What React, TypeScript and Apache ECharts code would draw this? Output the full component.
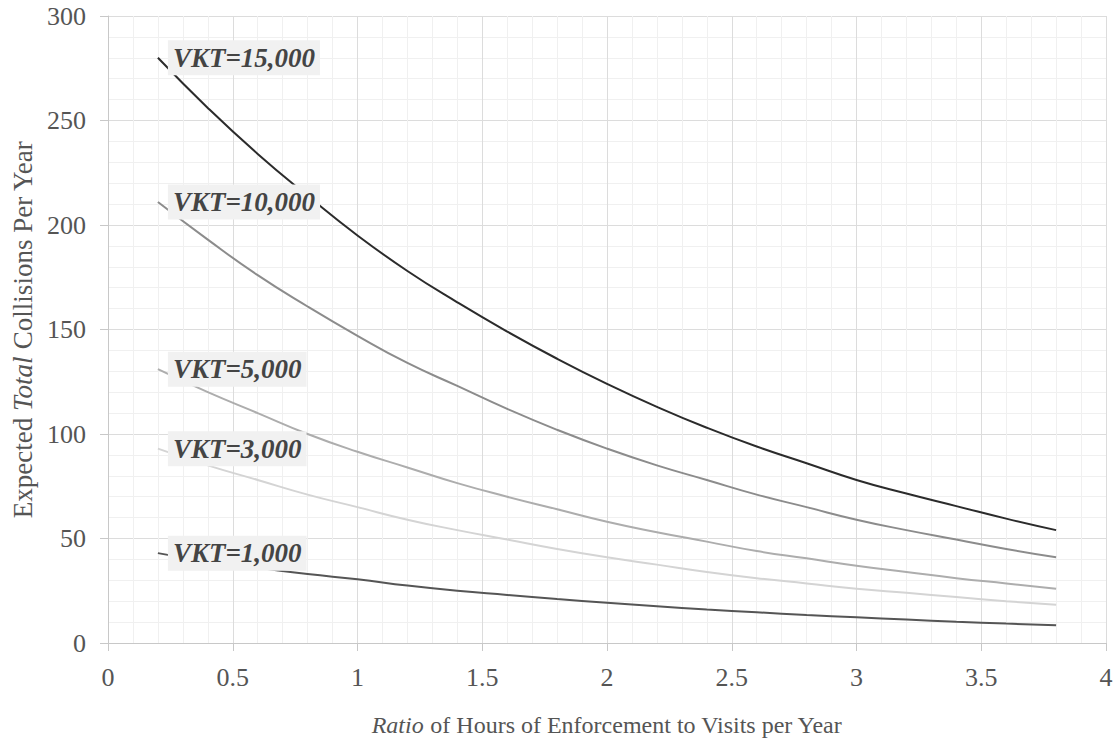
import React, { useEffect, useRef } from "react";
import * as echarts from "echarts";

const xValues = [0.2, 0.4, 0.6, 0.8, 1.0, 1.2, 1.4, 1.6, 1.8, 2.0, 2.2, 2.4, 2.6, 2.8, 3.0, 3.2, 3.4, 3.6, 3.8];

const vkt15000 = [280, 256, 234, 214, 195, 178, 163, 149, 136, 124, 113, 103, 94, 86, 78, 71.5, 65.5, 59.5, 54];
const vkt10000 = [211, 193, 176, 161, 147, 134, 123, 112, 102, 93, 85, 78, 71, 65, 59, 54, 49.5, 45, 41];
const vkt5000 = [131, 120, 110, 100, 91.5, 84, 76.5, 70, 64, 58, 53, 48.5, 44, 40.5, 37, 34, 31, 28.5, 26];
const vkt3000 = [93, 85, 78, 71, 65, 59, 54, 49.5, 45, 41, 37.5, 34, 31, 28.5, 26, 24, 22, 20, 18.3];
const vkt1000 = [43, 39, 36, 33, 30.5, 27.5, 25, 23, 21, 19.3, 17.6, 16, 14.7, 13.4, 12.3, 11.2, 10.2, 9.3, 8.5];

const seriesNames = ["VKT=15,000", "VKT=10,000", "VKT=5,000", "VKT=3,000", "VKT=1,000"];
const seriesValues = [vkt15000, vkt10000, vkt5000, vkt3000, vkt1000];
const seriesColors = ["#2b2b2b", "#8c8c8c", "#adadad", "#d4d4d4", "#555555"];

const xTitle = "{i|Ratio}{n| of Hours of Enforcement to Visits per Year}";
const yTitle = "{n|Expected }{i|Total}{n| Collisions Per Year}";

const FONT = "Liberation Serif";

export default function App() {
  const ref = useRef<HTMLDivElement>(null);
  useEffect(() => {
    if (!ref.current) return;
    const chart = echarts.init(ref.current, undefined, { renderer: "svg" });
    const xRich = {
      n: { fontFamily: FONT, fontSize: 24, color: "#555" },
      i: { fontFamily: FONT, fontSize: 24, color: "#555", fontStyle: "italic" },
    };
    const yRich = {
      n: { fontFamily: FONT, fontSize: 27, color: "#555" },
      i: { fontFamily: FONT, fontSize: 27, color: "#555", fontStyle: "italic" },
    };
    const series = seriesNames.map((name, si) => ({
      name,
      type: "line",
      smooth: 0.5,
      symbol: "circle",
      symbolSize: 0,
      showSymbol: true,
      lineStyle: { color: seriesColors[si], width: 2 },
      itemStyle: { color: seriesColors[si] },
      z: 2 + si,
      data: xValues.map((x, i) =>
        i === 0
          ? {
              value: [x, seriesValues[si][i]],
              label: {
                show: true,
                position: "right",
                distance: 10,
                formatter: name,
                fontFamily: FONT,
                fontSize: 27,
                fontWeight: "bold",
                fontStyle: "italic",
                color: "#444",
                backgroundColor: "#f1f1f1",
                padding: [4, 5, 4, 5],
              },
            }
          : { value: [x, seriesValues[si][i]] }
      ),
    }));
    chart.setOption({
      animation: false,
      backgroundColor: "#ffffff",
      textStyle: { fontFamily: FONT },
      grid: { left: 108, right: 8, top: 16, bottom: 98, outerBoundsMode: "none", containLabel: false },
      xAxis: {
        type: "value",
        min: 0,
        max: 4,
        interval: 0.5,
        name: xTitle,
        nameLocation: "middle",
        nameGap: 70,
        nameTextStyle: { fontFamily: FONT, rich: xRich },
        axisLine: { show: true, lineStyle: { color: "#c8c8c8", width: 1 } },
        axisTick: { show: true, length: 8, lineStyle: { color: "#c8c8c8" } },
        axisLabel: { fontFamily: FONT, fontSize: 26, color: "#555", margin: 21 },
        splitLine: { show: true, lineStyle: { color: "#dcdcdc", width: 1 } },
        minorTick: { show: true, splitNumber: 5, length: 0, lineStyle: { opacity: 0 } },
        minorSplitLine: { show: true, lineStyle: { color: "#f0f0f0", width: 1 } },
      },
      yAxis: {
        type: "value",
        min: 0,
        max: 300,
        interval: 50,
        name: yTitle,
        nameLocation: "middle",
        nameGap: 70,
        nameTextStyle: { fontFamily: FONT, rich: yRich },
        axisLine: { show: true, lineStyle: { color: "#c8c8c8", width: 1 } },
        axisTick: { show: true, length: 8, lineStyle: { color: "#c8c8c8" } },
        axisLabel: { fontFamily: FONT, fontSize: 26, color: "#555", margin: 22 },
        splitLine: { show: true, lineStyle: { color: "#dcdcdc", width: 1 } },
        minorTick: { show: true, splitNumber: 5, length: 0, lineStyle: { opacity: 0 } },
        minorSplitLine: { show: true, lineStyle: { color: "#f0f0f0", width: 1 } },
      },
      series,
    });
    return () => chart.dispose();
  }, []);
  return <div ref={ref} style={{ width: 1114, height: 741, position: "absolute", left: 0, top: 0 }} />;
}
